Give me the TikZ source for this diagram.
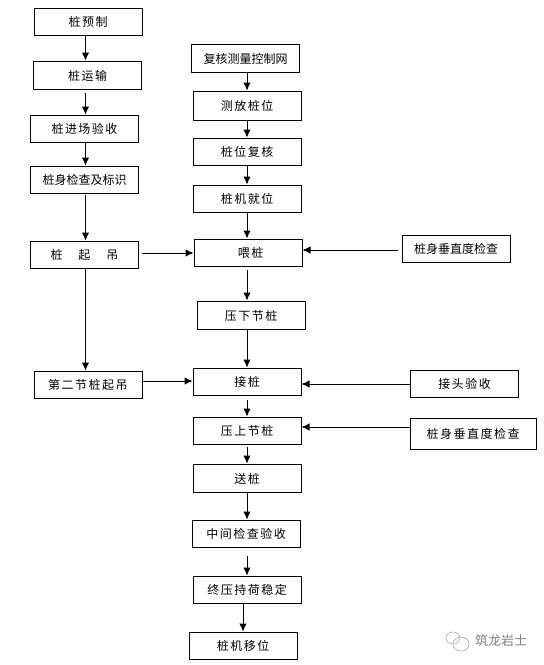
\documentclass[tikz,border=0pt]{standalone}
\usepackage{fontspec}
\newfontfamily\cjk[LetterSpace=12.5]{Noto Sans CJK SC}
\newfontfamily\cjktight{Noto Sans CJK SC}
\usetikzlibrary{arrows.meta}
\tikzset{
  flowbox/.style={draw,line width=1pt,minimum width=108,minimum height=27,inner sep=0pt,text height=12pt,text depth=2pt,font=\fontsize{12}{13}\cjk},
  flowline/.style={-{Latex[length=8pt,width=7.5pt]},line width=1pt},
  markgrey/.style={draw=black!30,line width=0.7pt}
}
\begin{document}
\begin{tikzpicture}[x=1pt,y=-1pt]
\useasboundingbox (0,0) rectangle (544,665);

\coordinate (lx) at (85.5,0);
\coordinate (rx) at (247,0);

\node[flowbox] (yuzhi) at (88,21.5) {桩预制};
\node[flowbox,minimum height=28] (yunshu) at (87.5,75) {桩运输};
\node[flowbox] (jinchang) at (84.5,128.5) {桩进场验收};
\node[flowbox,font=\fontsize{12}{13}\cjktight] (jiancha) at (84.5,179.5) {桩身检查及标识};
\node[flowbox] (qidiao) at (84.5,254.5) {桩\hspace{16pt}起\hspace{16pt}吊};
\node[flowbox] (dierjie) at (88,384.5) {第二节桩起吊};

\node[flowbox,minimum height=28,font=\fontsize{12}{13}\cjktight] (fuhe) at (245.5,58) {复核测量控制网};
\node[flowbox,minimum height=29] (cefang) at (247,105.5) {测放桩位};
\node[flowbox] (zhuangwei) at (247,151.5) {桩位复核};
\node[flowbox] (jiuwei) at (247,198.5) {桩机就位};
\node[flowbox] (weizhuang) at (248,252.5) {\hspace{5pt}喂桩};
\node[flowbox,minimum height=28] (yaxia) at (251,315) {压下节桩};
\node[flowbox] (jiezhuang) at (247,381.5) {接桩};
\node[flowbox] (yashang) at (247,430.5) {压上节桩};
\node[flowbox,minimum height=28] (songzhuang) at (247,478) {送桩};
\node[flowbox] (zhongjian) at (246,533.5) {中间检查验收};
\node[flowbox] (zhongya) at (247,589.5) {终压持荷稳定};
\node[flowbox] (yiwei) at (243,645.5) {桩机移位};

\node[flowbox,font=\fontsize{12}{13}\cjktight] (chuizhi) at (456,248.5) {桩身垂直度检查};
\node[flowbox] (jietou) at (464.5,383.5) {接头验收};
\node[flowbox,minimum width=126,minimum height=31] (chuizhib) at (473,433.5) {桩身垂直度检查};

\draw[flowline] (yuzhi.south -| lx) -- (yunshu.north -| lx);
\draw[flowline,shorten <=3pt] (yunshu.south -| lx) -- (jinchang.north -| lx);
\draw[flowline] (jinchang.south -| lx) -- (jiancha.north -| lx);
\draw[flowline,shorten <=1pt] (jiancha.south -| lx) -- (qidiao.north -| lx);
\draw[flowline] (qidiao.south -| lx) -- (dierjie.north -| lx);

\draw[flowline] (fuhe.south -| rx) -- (cefang.north -| rx);
\draw[flowline] (cefang.south -| rx) -- (zhuangwei.north -| rx);
\draw[flowline] (zhuangwei.south -| rx) -- (jiuwei.north -| rx);
\draw[flowline] (jiuwei.south -| rx) -- (weizhuang.north -| rx);
\draw[flowline,shorten <=3pt] (weizhuang.south -| rx) -- (yaxia.north -| rx);
\draw[flowline] (yaxia.south -| rx) -- (jiezhuang.north -| rx);
\draw[flowline,shorten <=4pt] (jiezhuang.south -| rx) -- (yashang.north -| rx);
\draw[flowline,shorten <=2pt] (yashang.south -| rx) -- (songzhuang.north -| rx);
\draw[flowline] (songzhuang.south -| rx) -- (zhongjian.north -| rx);
\draw[flowline,shorten <=8pt] (zhongjian.south -| rx) -- (zhongya.north -| rx);
\draw[flowline] (zhongya.south -| yiwei) -- (yiwei.north);

\draw[flowline,shorten <=3pt] ([yshift=1.5pt]qidiao.east) -- ([yshift=1.5pt]qidiao.east -| weizhuang.west);
\draw[flowline] ([yshift=3.5pt]dierjie.east) -- ([yshift=3.5pt]dierjie.east -| jiezhuang.west);
\draw[flowline,shorten <=4pt] ([yshift=-1.5pt]chuizhi.west) -- ([yshift=-1.5pt]chuizhi.west -| weizhuang.east);
\draw[flowline] ([yshift=-0.5pt]jietou.west) -- ([yshift=-0.5pt]jietou.west -| jiezhuang.east);
\draw[flowline] ([yshift=6.5pt]chuizhib.west) -- ([yshift=6.5pt]chuizhib.west -| yashang.east);

\draw[markgrey] (453,638) ellipse (7 and 6);
\draw[markgrey] (461,644) ellipse (8 and 7);
\node[text=black!50,font=\fontsize{13}{14}\cjktight,inner sep=0pt] (shuiyin) at (501,641) {筑龙岩士};
\end{tikzpicture}
\end{document}
